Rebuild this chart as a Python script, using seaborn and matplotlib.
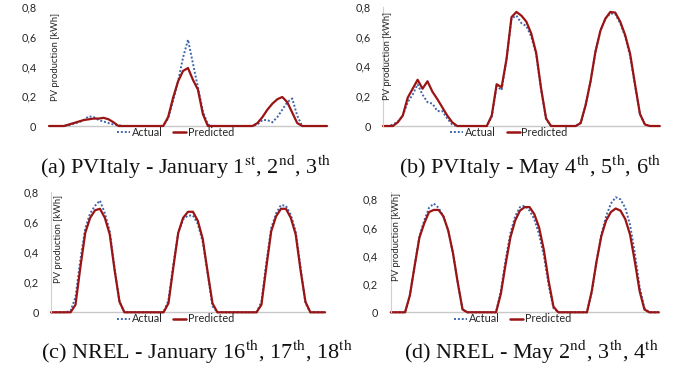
import matplotlib
matplotlib.use("Agg")
import matplotlib.pyplot as plt
import seaborn as sns
import pandas as pd
import numpy as np

# 3 days, 19 samples per day
hours = list(range(57))

a_pred = [0, 0, 0, 0, 0.01, 0.02, 0.03, 0.04, 0.045, 0.05, 0.05, 0.055, 0.045, 0.025, 0, 0, 0, 0, 0,
          0, 0, 0, 0, 0, 0.06, 0.19, 0.30, 0.37, 0.39, 0.31, 0.245, 0.08, 0, 0, 0, 0, 0, 0,
          0, 0, 0, 0, 0.02, 0.06, 0.11, 0.15, 0.18, 0.195, 0.16, 0.09, 0.02, 0, 0, 0, 0, 0, 0]
a_act = [0, 0, 0, 0, 0.005, 0.015, 0.025, 0.04, 0.065, 0.06, 0.04, 0.03, 0.02, 0.01, 0.005, 0, 0, 0, 0,
         0, 0, 0, 0, 0, 0.05, 0.17, 0.30, 0.46, 0.58, 0.42, 0.26, 0.10, 0.01, 0, 0, 0, 0, 0,
         0, 0, 0, 0, 0.01, 0.04, 0.04, 0.025, 0.06, 0.11, 0.16, 0.185, 0.07, 0, 0, 0, 0, 0, 0]

b_pred = [0, 0, 0, 0.025, 0.07, 0.19, 0.25, 0.31, 0.25, 0.30, 0.23, 0.18, 0.125, 0.07, 0.025, 0, 0, 0, 0,
          0, 0, 0, 0.07, 0.28, 0.26, 0.45, 0.73, 0.765, 0.74, 0.70, 0.62, 0.49, 0.25, 0.05, 0, 0, 0, 0,
          0, 0, 0.02, 0.14, 0.30, 0.50, 0.64, 0.72, 0.765, 0.76, 0.70, 0.61, 0.485, 0.28, 0.08, 0.01, 0, 0, 0]
b_act = [0, 0, 0.01, 0.03, 0.07, 0.16, 0.21, 0.28, 0.21, 0.16, 0.15, 0.10, 0.10, 0.05, 0.01, 0, 0, 0, 0,
         0, 0, 0, 0.06, 0.27, 0.24, 0.45, 0.72, 0.74, 0.69, 0.67, 0.60, 0.48, 0.24, 0.05, 0, 0, 0, 0,
         0, 0, 0.02, 0.14, 0.30, 0.50, 0.64, 0.72, 0.755, 0.75, 0.69, 0.60, 0.47, 0.27, 0.08, 0.01, 0, 0, 0]

c_pred = [0, 0, 0, 0, 0, 0.05, 0.30, 0.53, 0.63, 0.68, 0.69, 0.63, 0.52, 0.28, 0.07, 0, 0, 0, 0,
          0, 0, 0, 0, 0, 0.06, 0.30, 0.53, 0.63, 0.67, 0.67, 0.61, 0.49, 0.27, 0.06, 0, 0, 0, 0,
          0, 0, 0, 0, 0, 0.05, 0.30, 0.54, 0.64, 0.69, 0.69, 0.63, 0.52, 0.28, 0.07, 0, 0, 0, 0]
c_act = [0, 0, 0, 0, 0.01, 0.10, 0.35, 0.56, 0.66, 0.71, 0.745, 0.66, 0.54, 0.29, 0.07, 0, 0, 0, 0,
         0, 0, 0, 0, 0, 0.08, 0.32, 0.53, 0.62, 0.645, 0.645, 0.59, 0.47, 0.26, 0.04, 0, 0, 0, 0,
         0, 0, 0, 0, 0, 0.07, 0.33, 0.56, 0.66, 0.715, 0.71, 0.65, 0.54, 0.30, 0.06, 0, 0, 0, 0]

d_pred = [0, 0, 0, 0, 0.12, 0.33, 0.53, 0.63, 0.71, 0.725, 0.725, 0.68, 0.58, 0.42, 0.21, 0.02, 0, 0, 0,
          0, 0, 0, 0, 0.13, 0.34, 0.53, 0.65, 0.72, 0.745, 0.745, 0.695, 0.60, 0.44, 0.22, 0.04, 0, 0, 0,
          0, 0, 0, 0, 0.15, 0.36, 0.54, 0.65, 0.71, 0.735, 0.72, 0.66, 0.55, 0.36, 0.15, 0.02, 0, 0, 0]
d_act = [0, 0, 0, 0, 0.12, 0.33, 0.54, 0.65, 0.74, 0.77, 0.74, 0.68, 0.58, 0.42, 0.21, 0.02, 0, 0, 0,
         0, 0, 0, 0, 0.15, 0.37, 0.56, 0.68, 0.745, 0.755, 0.72, 0.66, 0.55, 0.40, 0.19, 0.03, 0, 0, 0,
         0, 0, 0, 0, 0.14, 0.36, 0.55, 0.68, 0.77, 0.815, 0.80, 0.74, 0.62, 0.42, 0.18, 0.03, 0, 0, 0]

captions = [r"(a) PVItaly - January 1$^{\rm st}$, 2$^{\rm nd}$, 3$^{\rm th}$",
            r"(b) PVItaly - May 4$^{\rm th}$, 5$^{\rm th}$, 6$^{\rm th}$",
            r"(c) NREL - January 16$^{\rm th}$, 17$^{\rm th}$, 18$^{\rm th}$",
            r"(d) NREL - May 2$^{\rm nd}$, 3$^{\rm th}$, 4$^{\rm th}$"]
yticks = [0, 0.2, 0.4, 0.6, 0.8]
ytick_labels = ["0", "0,2", "0,4", "0,6", "0,8"]

sns.set_style("white")
plt.rcParams['font.family'] = ['Lato', 'DejaVu Sans']
plt.rcParams['mathtext.fontset'] = 'stix'

ACT_COLOR = '#3F66AE'
PRED_COLOR = '#9A1414'

fig = plt.figure(figsize=(6.96, 3.68), dpi=100)

panels = [
    (a_act, a_pred, [0.0704, 0.6576, 0.3994, 0.3234], 0.8, (0.267, 0.527), (0.022, 0.58)),
    (b_act, b_pred, [0.5503, 0.6576, 0.3976, 0.3242], 0.8, (0.7625, 0.527), (0.018, 0.59)),
    (c_act, c_pred, [0.0733, 0.1514, 0.3937, 0.3261], 0.8, (0.283, 0.024), (0.027, 0.61)),
    (d_act, d_pred, [0.5614, 0.1514, 0.3851, 0.3261], 0.85, (0.763, 0.024), (0.02, 0.63)),
]

for i, (act, pred, rect, ytop, cap_pos, lab_pos) in enumerate(panels):
    ax = fig.add_axes(rect)
    df = pd.DataFrame({'hour': hours, 'Actual': act, 'Predicted': pred})
    sns.lineplot(data=df, x='hour', y='Actual', ax=ax, color=ACT_COLOR,
                 linestyle=(0, (1, 1)), linewidth=1.4, clip_on=False)
    sns.lineplot(data=df, x='hour', y='Predicted', ax=ax, color=PRED_COLOR,
                 linewidth=1.6, clip_on=False)
    ax.set_xlim(0, 56)
    ax.set_ylim(0, ytop)
    ax.set_xticks([])
    ax.set_yticks(yticks)
    ax.set_yticklabels(ytick_labels)
    ax.tick_params(axis='y', length=0, pad=9, labelsize=7.8, labelcolor='#262626')
    ax.set_xlabel('')
    ax.set_ylabel('')
    for s in ['top', 'right']:
        ax.spines[s].set_visible(False)
    ax.spines['bottom'].set_color('#C8C8C8')
    ax.spines['bottom'].set_linewidth(1.0)
    ax.spines['bottom'].set_zorder(0)
    ax.spines['left'].set_color('#D0D0D0')
    ax.spines['left'].set_linewidth(0.8)
    ax.spines['left'].set_visible(i != 0)

    ax.text(lab_pos[0], lab_pos[1], 'PV production [kWh]', rotation=90,
            transform=ax.transAxes, ha='center', va='center', fontsize=6.8,
            color='#262626')

    handles = [plt.Line2D([], [], color=ACT_COLOR, linestyle=(0, (1, 1)), linewidth=1.4),
               plt.Line2D([], [], color=PRED_COLOR, linewidth=1.8)]
    ax.legend(handles, ['Actual', 'Predicted'], loc='upper center',
              bbox_to_anchor=(0.455, -0.01), ncol=2, frameon=False, fontsize=7.8,
              handlelength=1.2, handletextpad=0.15, columnspacing=1.0,
              borderpad=0, borderaxespad=0)

    fig.text(cap_pos[0], cap_pos[1], captions[i], ha='center', va='baseline',
             family='Liberation Serif', fontsize=16, color='#111111')

fig.savefig('out.png', dpi=100)
